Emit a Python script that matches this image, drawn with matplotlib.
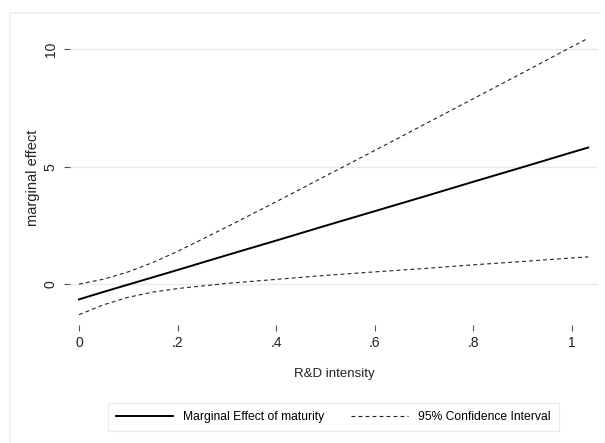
import matplotlib
matplotlib.use("Agg")
import matplotlib.pyplot as plt
from matplotlib.lines import Line2D

plt.rcParams["font.family"] = ["Liberation Sans", "DejaVu Sans"]

# values
rd_intensity = [0.0, 0.05, 0.1, 0.15, 0.2, 0.3, 0.4, 0.5, 0.6, 0.7, 0.8, 0.9, 1.0, 1.034]
marg_effect = [-0.64, -0.32, -0.01, 0.30, 0.61, 1.24, 1.86, 2.49, 3.11, 3.73, 4.36, 4.98, 5.61, 5.82]
ci_upper = [0.01, 0.22, 0.53, 0.93, 1.40, 2.44, 3.51, 4.60, 5.69, 6.79, 7.89, 8.99, 10.10, 10.47]
ci_lower = [-1.29, -0.87, -0.55, -0.33, -0.18, 0.04, 0.21, 0.38, 0.53, 0.67, 0.83, 0.97, 1.12, 1.17]

xticks = [0, 0.2, 0.4, 0.6, 0.8, 1.0]
xtick_labels = ["0", ".2", ".4", ".6", ".8", "1"]
yticks = [0, 5, 10]
ytick_labels = ["0", "5", "10"]

W, H = 605, 443
fig = plt.figure(figsize=(W / 100, H / 100), dpi=100)
fig.patch.set_facecolor("white")

# faint outer graph-region border (top and left)
fig.add_artist(Line2D([10 / W, 600 / W], [1 - 13 / H, 1 - 13 / H], color="#efefef", lw=1.2))
fig.add_artist(Line2D([10 / W, 10 / W], [0, 1 - 13 / H], color="#efefef", lw=1.2))

ax = fig.add_axes([70 / W, (H - 325) / H, (598 - 70) / W, (325 - 30) / H])
ax.set_xlim(-0.0183, 1.0538)
ax.set_ylim(-1.73, 10.82)

for s in ax.spines.values():
    s.set_visible(False)

ax.set_yticks(yticks)
ax.set_yticklabels(ytick_labels, rotation=90, va="center")
ax.set_xticks(xticks)
ax.set_xticklabels(xtick_labels)
ax.tick_params(axis="x", length=4, width=0.8, color="#555555", pad=4,
               labelsize=10, labelcolor="#222222")
ax.tick_params(axis="y", length=4, width=0.8, color="#555555", pad=5,
               labelsize=10, labelcolor="#222222")
ax.grid(axis="y", color="#eaeaea", lw=1.0)
ax.set_axisbelow(True)

ax.plot(rd_intensity, marg_effect, color="black", lw=1.4,
        label="Marginal Effect of maturity")
ax.plot(rd_intensity, ci_upper, color="#222222", lw=0.8, dashes=(3.5, 2.8),
        label="95% Confidence Interval")
ax.plot(rd_intensity, ci_lower, color="#222222", lw=0.8, dashes=(3.5, 2.8))

ax.set_xlabel("R&D intensity", fontsize=9.5, color="#222222", labelpad=13)
ax.set_ylabel("marginal effect", fontsize=10.5, color="#222222", labelpad=2.5)

leg = fig.legend(loc="center", bbox_to_anchor=(333.5 / W, 1 - 417 / H), ncol=2,
                 fontsize=8.7, handlelength=4.7, handletextpad=0.85,
                 columnspacing=2.2, frameon=True, fancybox=False,
                 borderpad=0.7, edgecolor="#e6e6e6")
leg.get_frame().set_linewidth(0.8)

fig.savefig("out.png", dpi=100)
